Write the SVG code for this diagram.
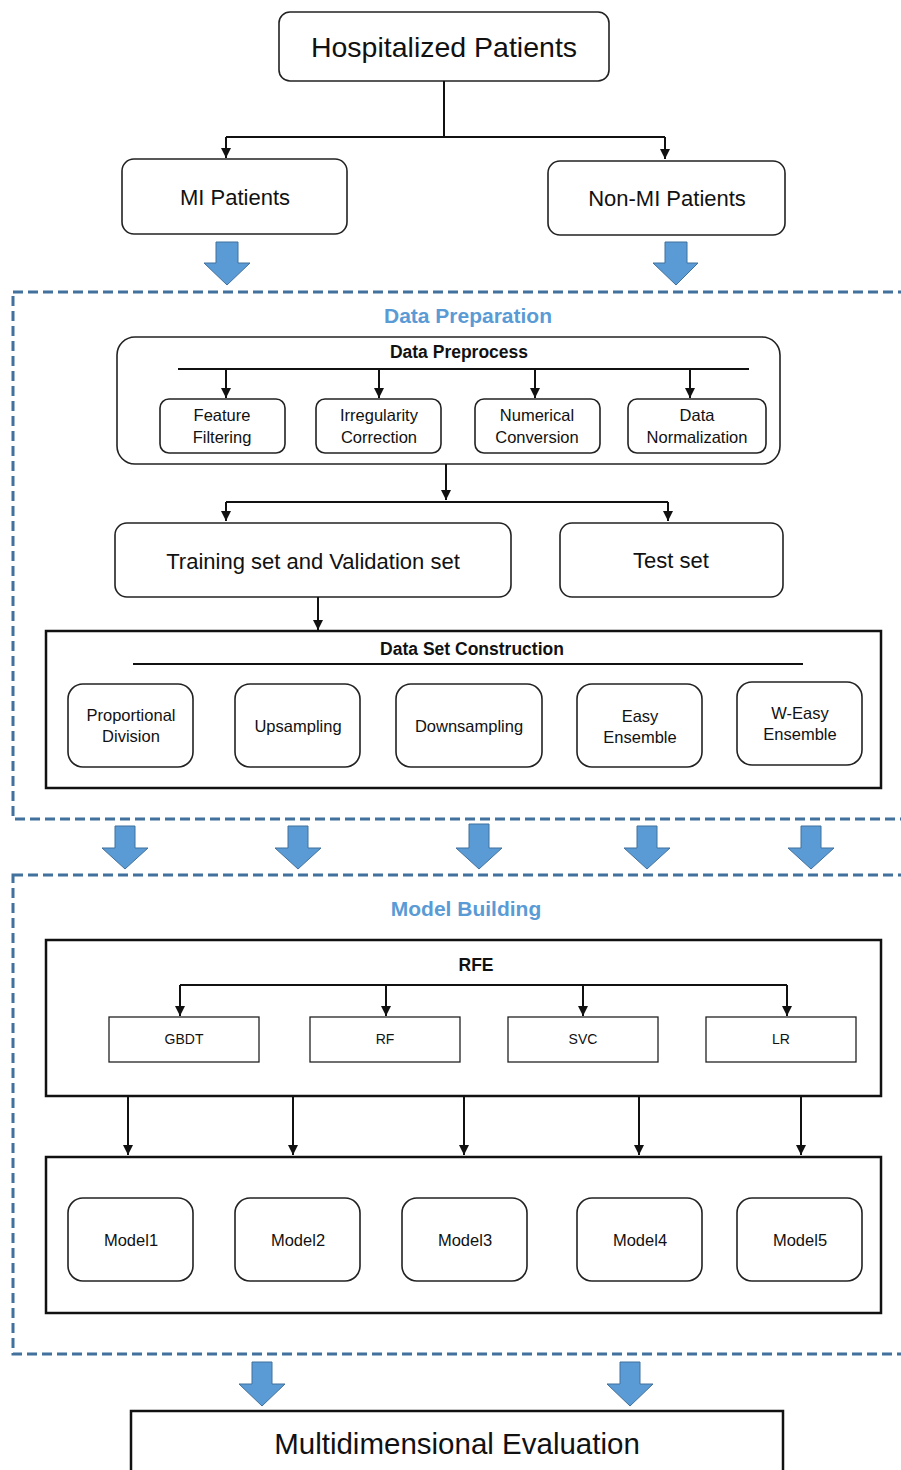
<svg xmlns="http://www.w3.org/2000/svg" width="901" height="1470" viewBox="0 0 901 1470">
<style>
text{font-family:"Liberation Sans",Arial,sans-serif;fill:#111;text-anchor:middle;dominant-baseline:central}
.rb{fill:#fff;stroke:#222;stroke-width:1.6}
.sq{fill:#fff;stroke:#111;stroke-width:2.5}
.sb{fill:#fff;stroke:#222;stroke-width:1.3}
.ln{fill:none;stroke:#111;stroke-width:2}
.dash{fill:none;stroke:#41719c;stroke-width:3;stroke-dasharray:10 5}
.blk{fill:#5b9bd5;stroke:#41719c;stroke-width:1}
.ttl{fill:#5b9bd5;font-weight:bold;font-size:21px}
.hd{font-weight:bold;font-size:17.5px}
.s{font-size:16.5px}
</style>
<defs>
<marker id="ah" markerUnits="userSpaceOnUse" markerWidth="10" markerHeight="10" refX="10" refY="5" orient="auto">
<path d="M0,0 L10,5 L0,10 z" fill="#111"/>
</marker>
</defs>

<g id="stages">
<rect class="dash" x="13" y="292" width="920" height="527"/>
<rect class="dash" x="13" y="875" width="920" height="479"/>
<text class="ttl" x="468" y="315">Data Preparation</text>
<text class="ttl" x="466" y="908">Model Building</text>
</g>

<g id="block-arrows">
<polygon class="blk" points="216,242 238,242 238,263 250,263 227,285 204,263 216,263"/>
<polygon class="blk" points="665,242 687,242 687,263 698,263 676,285 653,263 665,263"/>
<polygon class="blk" points="115,826 135,826 135,848 148,848 125,869 102,848 115,848"/>
<polygon class="blk" points="288,826 308,826 308,848 321,848 298,869 275,848 288,848"/>
<polygon class="blk" points="469,824 489,824 489,848 502,848 479,869 456,848 469,848"/>
<polygon class="blk" points="637,826 657,826 657,848 670,848 647,869 624,848 637,848"/>
<polygon class="blk" points="801,826 821,826 821,848 834,848 811,869 788,848 801,848"/>
<polygon class="blk" points="252,1362 272,1362 272,1384 285,1384 262,1406 239,1384 252,1384"/>
<polygon class="blk" points="620,1362 640,1362 640,1384 653,1384 630,1406 607,1384 620,1384"/>
</g>

<g id="hospitalized"><rect class="rb" x="279" y="12" width="330" height="69" rx="11"/><text x="444" y="47" font-size="28.5">Hospitalized Patients</text></g>
<g id="mi"><rect class="rb" x="122" y="159" width="225" height="75" rx="12"/><text x="235" y="197" font-size="22">MI Patients</text></g>
<g id="nonmi"><rect class="rb" x="548" y="161" width="237" height="74" rx="12"/><text x="667" y="198" font-size="22">Non-MI Patients</text></g>

<g id="preprocess"><rect class="rb" x="117" y="337" width="663" height="127" rx="18"/><text class="hd" x="459" y="352">Data Preprocess</text></g>
<g id="feature"><rect class="rb" x="160" y="399" width="125" height="54" rx="9"/><text class="s" x="222" y="415">Feature</text><text class="s" x="222" y="437">Filtering</text></g>
<g id="irregularity"><rect class="rb" x="316" y="399" width="125" height="54" rx="9"/><text class="s" x="379" y="415">Irregularity</text><text class="s" x="379" y="437">Correction</text></g>
<g id="numerical"><rect class="rb" x="475" y="399" width="125" height="54" rx="9"/><text class="s" x="537" y="415">Numerical</text><text class="s" x="537" y="437">Conversion</text></g>
<g id="normalization"><rect class="rb" x="628" y="399" width="138" height="54" rx="9"/><text class="s" x="697" y="415">Data</text><text class="s" x="697" y="437">Normalization</text></g>

<g id="training"><rect class="rb" x="115" y="523" width="396" height="74" rx="12"/><text x="313" y="561" font-size="22">Training set and Validation set</text></g>
<g id="test"><rect class="rb" x="560" y="523" width="223" height="74" rx="12"/><text x="671" y="560" font-size="22">Test set</text></g>

<g id="dsc"><rect class="sq" x="46" y="631" width="835" height="157"/><text class="hd" x="472" y="649" font-size="18.5">Data Set Construction</text></g>
<g id="proportional"><rect class="rb" x="68" y="684" width="125" height="83" rx="15"/><text class="s" x="131" y="715">Proportional</text><text class="s" x="131" y="736">Division</text></g>
<g id="upsampling"><rect class="rb" x="235" y="684" width="125" height="83" rx="15"/><text class="s" x="298" y="726">Upsampling</text></g>
<g id="downsampling"><rect class="rb" x="396" y="684" width="146" height="83" rx="15"/><text class="s" x="469" y="726">Downsampling</text></g>
<g id="easy"><rect class="rb" x="577" y="684" width="125" height="83" rx="15"/><text class="s" x="640" y="716">Easy</text><text class="s" x="640" y="737">Ensemble</text></g>
<g id="weasy"><rect class="rb" x="737" y="682" width="125" height="83" rx="15"/><text class="s" x="800" y="713">W-Easy</text><text class="s" x="800" y="734">Ensemble</text></g>

<g id="rfe"><rect class="sq" x="46" y="940" width="835" height="156"/><text class="hd" x="476" y="965">RFE</text></g>
<g id="gbdt"><rect class="sb" x="109" y="1017" width="150" height="45"/><text x="184" y="1039" font-size="14">GBDT</text></g>
<g id="rf"><rect class="sb" x="310" y="1017" width="150" height="45"/><text x="385" y="1039" font-size="14">RF</text></g>
<g id="svc"><rect class="sb" x="508" y="1017" width="150" height="45"/><text x="583" y="1039" font-size="14">SVC</text></g>
<g id="lr"><rect class="sb" x="706" y="1017" width="150" height="45"/><text x="781" y="1039" font-size="14">LR</text></g>

<g id="models"><rect class="sq" x="46" y="1157" width="835" height="156"/></g>
<g id="model1"><rect class="rb" x="68" y="1198" width="125" height="83" rx="15"/><text class="s" x="131" y="1240">Model1</text></g>
<g id="model2"><rect class="rb" x="235" y="1198" width="125" height="83" rx="15"/><text class="s" x="298" y="1240">Model2</text></g>
<g id="model3"><rect class="rb" x="402" y="1198" width="125" height="83" rx="15"/><text class="s" x="465" y="1240">Model3</text></g>
<g id="model4"><rect class="rb" x="577" y="1198" width="125" height="83" rx="15"/><text class="s" x="640" y="1240">Model4</text></g>
<g id="model5"><rect class="rb" x="737" y="1198" width="125" height="83" rx="15"/><text class="s" x="800" y="1240">Model5</text></g>

<g id="evaluation"><rect class="sq" x="131" y="1411" width="652" height="80"/><text x="457" y="1443" font-size="29.5">Multidimensional Evaluation</text></g>

<g id="connectors">
<path class="ln" d="M444,81 V137 M226,137 H665"/>
<path class="ln" d="M226,137 V158" marker-end="url(#ah)"/>
<path class="ln" d="M665,137 V159" marker-end="url(#ah)"/>
<path class="ln" d="M178,369 H749"/>
<path class="ln" d="M226,369 V398" marker-end="url(#ah)"/>
<path class="ln" d="M379,369 V398" marker-end="url(#ah)"/>
<path class="ln" d="M535,369 V398" marker-end="url(#ah)"/>
<path class="ln" d="M690,369 V398" marker-end="url(#ah)"/>
<path class="ln" d="M446,464 V500" marker-end="url(#ah)"/>
<path class="ln" d="M226,502 H668"/>
<path class="ln" d="M226,502 V521" marker-end="url(#ah)"/>
<path class="ln" d="M668,502 V521" marker-end="url(#ah)"/>
<path class="ln" d="M318,597 V630" marker-end="url(#ah)"/>
<path class="ln" d="M133,664 H803"/>
<path class="ln" d="M180,985 H787"/>
<path class="ln" d="M180,985 V1016" marker-end="url(#ah)"/>
<path class="ln" d="M386,985 V1016" marker-end="url(#ah)"/>
<path class="ln" d="M583,985 V1016" marker-end="url(#ah)"/>
<path class="ln" d="M787,985 V1016" marker-end="url(#ah)"/>
<path class="ln" d="M128,1096 V1155" marker-end="url(#ah)"/>
<path class="ln" d="M293,1096 V1155" marker-end="url(#ah)"/>
<path class="ln" d="M464,1096 V1155" marker-end="url(#ah)"/>
<path class="ln" d="M639,1096 V1155" marker-end="url(#ah)"/>
<path class="ln" d="M801,1096 V1155" marker-end="url(#ah)"/>
</g>
</svg>
